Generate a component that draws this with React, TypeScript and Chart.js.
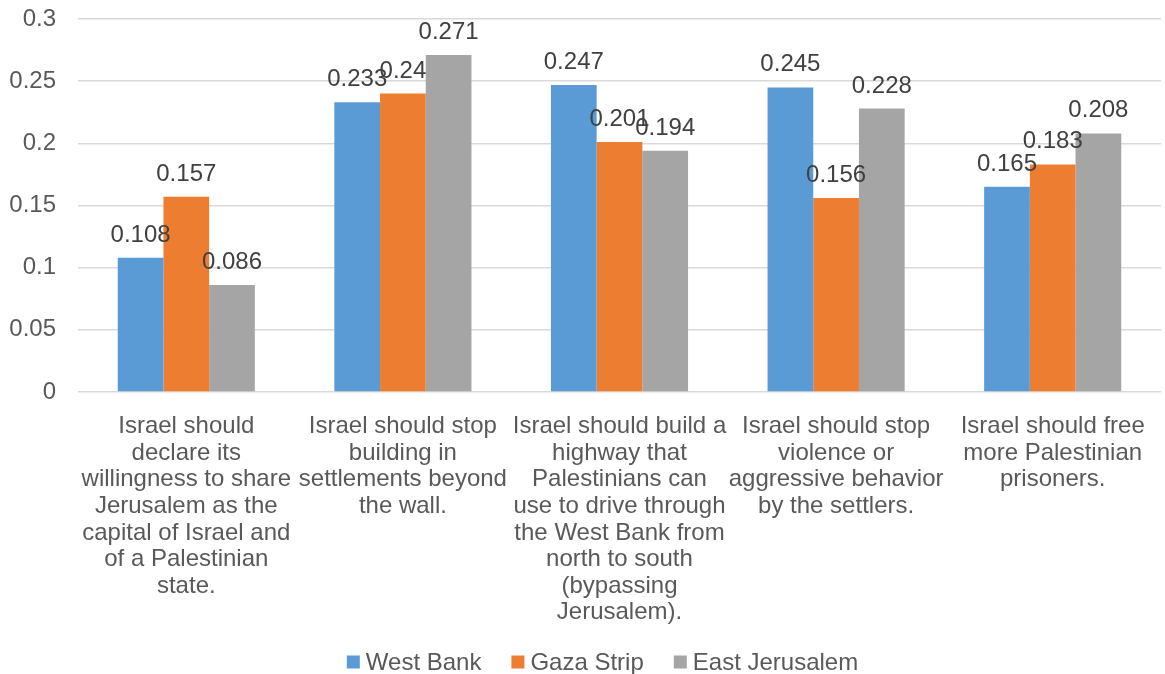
import React, { useEffect, useRef } from "react";
import { Chart, registerables } from "chart.js";

Chart.register(...registerables);

const categories: string[][] = [
  ["Israel should", "declare its", "willingness to share", "Jerusalem as the", "capital of Israel and", "of a Palestinian", "state."],
  ["Israel should stop", "building in", "settlements beyond", "the wall."],
  ["Israel should build a", "highway that", "Palestinians can", "use to drive through", "the West Bank from", "north to south", "(bypassing", "Jerusalem)."],
  ["Israel should stop", "violence or", "aggressive behavior", "by the settlers."],
  ["Israel should free", "more Palestinian", "prisoners."],
];

const seriesNames = ["West Bank", "Gaza Strip", "East Jerusalem"];
const westBank = [0.108, 0.233, 0.247, 0.245, 0.165];
const gazaStrip = [0.157, 0.24, 0.201, 0.156, 0.183];
const eastJerusalem = [0.086, 0.271, 0.194, 0.228, 0.208];
const seriesColors = ["#5B9BD5", "#ED7D31", "#A5A5A5"];
const yTicks = [0, 0.05, 0.1, 0.15, 0.2, 0.25, 0.3];

const FONT = "'Liberation Sans', Arial, sans-serif";
const FS = 24;

const valueLabels = {
  id: "valueLabels",
  afterDatasetsDraw(chart: any) {
    const ctx = chart.ctx;
    ctx.save();
    ctx.font = `${FS}px ${FONT}`;
    ctx.fillStyle = "#404040";
    ctx.textAlign = "center";
    ctx.textBaseline = "alphabetic";
    chart.data.datasets.forEach((ds: any, i: number) => {
      const meta = chart.getDatasetMeta(i);
      meta.data.forEach((bar: any, j: number) => {
        ctx.fillText(String(ds.data[j]), bar.x, bar.y - 16);
      });
    });
    ctx.restore();
  },
};

const customLegend = {
  id: "customLegend",
  afterDraw(chart: any) {
    const ctx = chart.ctx;
    ctx.save();
    ctx.font = `${FS}px ${FONT}`;
    ctx.textBaseline = "middle";
    ctx.textAlign = "left";
    const box = 13;
    const gap = 6;
    const spacing = 30;
    const items = chart.data.datasets.map((ds: any) => ({
      label: ds.label,
      color: ds.backgroundColor,
      w: box + gap + ctx.measureText(ds.label).width,
    }));
    const total = items.reduce((a: number, it: any) => a + it.w, 0) + spacing * (items.length - 1);
    let x = chart.width / 2 + 20 - total / 2;
    const yc = 662;
    items.forEach((it: any) => {
      ctx.fillStyle = it.color;
      ctx.fillRect(x, yc - box / 2, box, box);
      ctx.fillStyle = "#595959";
      ctx.fillText(it.label, x + box + gap, yc + 1);
      x += it.w + spacing;
    });
    ctx.restore();
  },
};

export default function App() {
  const ref = useRef<HTMLCanvasElement>(null);
  useEffect(() => {
    document.body.style.margin = "0";
    const chart = new Chart(ref.current!, {
      type: "bar",
      data: {
        labels: categories,
        datasets: [westBank, gazaStrip, eastJerusalem].map((d, i) => ({
          label: seriesNames[i],
          data: d,
          backgroundColor: seriesColors[i],
          borderWidth: 0,
          barPercentage: 1,
          categoryPercentage: 0.633,
        })),
      },
      options: {
        animation: false,
        responsive: true,
        maintainAspectRatio: false,
        layout: { padding: { top: 0, right: 4, left: 0, bottom: 0 } },
        plugins: {
          legend: { display: false },
          tooltip: { enabled: false },
        },
        scales: {
          x: {
            afterFit: (s: any) => {
              s.height = 282;
            },
            grid: { display: false },
            border: { display: false },
            ticks: {
              color: "#595959",
              font: { family: FONT, size: FS, lineHeight: 1.11 },
              maxRotation: 0,
              minRotation: 0,
              autoSkip: false,
              padding: 13,
            },
          },
          y: {
            min: 0,
            max: 0.3,
            afterFit: (s: any) => {
              s.width = 78;
              s.paddingTop = 19;
              s.paddingBottom = 0;
            },
            afterBuildTicks: (s: any) => {
              s.ticks = yTicks.map((v) => ({ value: v }));
            },
            grid: { color: "#d9d9d9", lineWidth: 1.5, drawTicks: false },
            border: { display: false },
            ticks: {
              color: "#595959",
              font: { family: FONT, size: FS },
              padding: 22,
              callback: (v: any) => String(Number(Number(v).toFixed(2))),
            },
          },
        },
      },
      plugins: [valueLabels, customLegend],
    });
    return () => chart.destroy();
  }, []);
  return (
    <div style={{ position: "relative", width: 1165, height: 674 }}>
      <canvas ref={ref} />
    </div>
  );
}
